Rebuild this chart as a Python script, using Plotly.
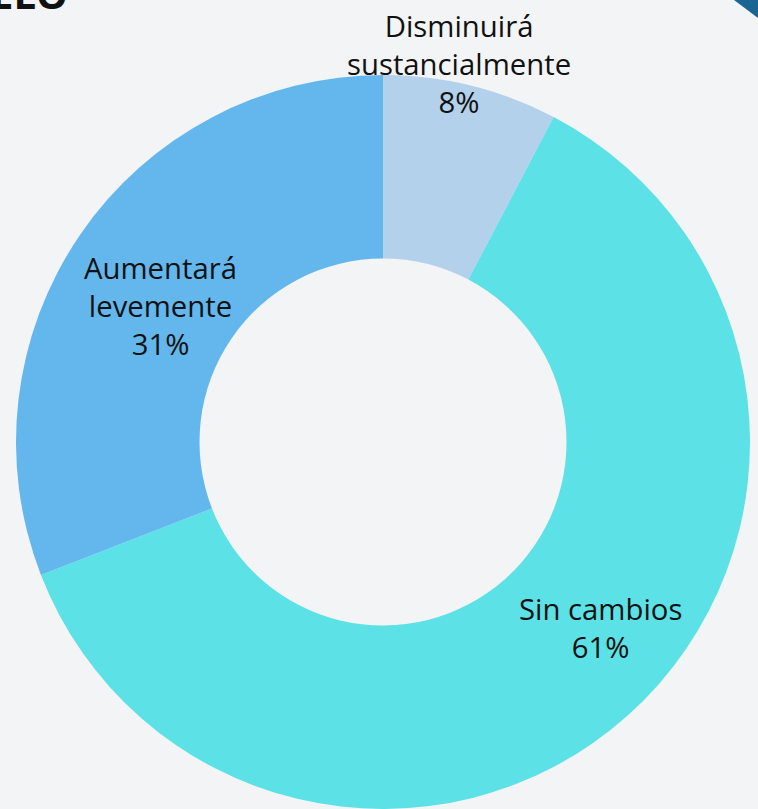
import plotly.graph_objects as go

labels = ["Disminuirá<br>sustancialmente", "Sin cambios", "Aumentará<br>levemente"]
values = [7.7, 61.4, 30.9]
colors = ["#b3d1ea", "#5ce1e6", "#63b7ed"]

# label placement (pixels from top-left of the figure) - layout, not data
label_px = [(459, 64), (600, 628), (160, 306)]

W, H = 758, 809
FONT = "Open Sans"
FS = 29.3

fig = go.Figure(go.Pie(
    labels=labels,
    values=values,
    hole=0.5,
    sort=False,
    direction="clockwise",
    rotation=0,
    marker=dict(colors=colors, line=dict(width=0)),
    textinfo="none",
    domain=dict(x=[14 / W, 752 / W], y=[0, 734 / H]),
    showlegend=False,
    hoverinfo="label+percent",
))

total = sum(values)
annotations = []
for lab, v, (px, py) in zip(labels, values, label_px):
    pct = round(100 * v / total)
    annotations.append(dict(
        text=f"{lab}<br>{pct}%", xref="paper", yref="paper",
        x=px / W, y=1 - py / H, xanchor="center", yanchor="middle",
        showarrow=False, align="center",
        font=dict(family=FONT, size=FS, color="#111111"),
    ))

annotations.append(dict(
    text="<b>ELO</b>", xref="paper", yref="paper", x=70 / W, y=1,
    xanchor="right", yanchor="bottom", yshift=-23, showarrow=False,
    font=dict(family=FONT, size=40, color="#111111"),
))

fig.update_layout(
    width=W, height=H,
    margin=dict(l=0, r=0, t=0, b=0),
    paper_bgcolor="#f3f4f6",
    plot_bgcolor="#f3f4f6",
    annotations=annotations,
    shapes=[dict(
        type="path", xref="paper", yref="paper",
        path=f"M {734 / W} 1 L 1 1 L 1 {1 - 18 / H} Z",
        fillcolor="#1b6593", line=dict(width=0),
    )],
)

fig.write_html("out.html", config={"displayModeBar": False},
               post_script="document.body.style.margin='0';")
